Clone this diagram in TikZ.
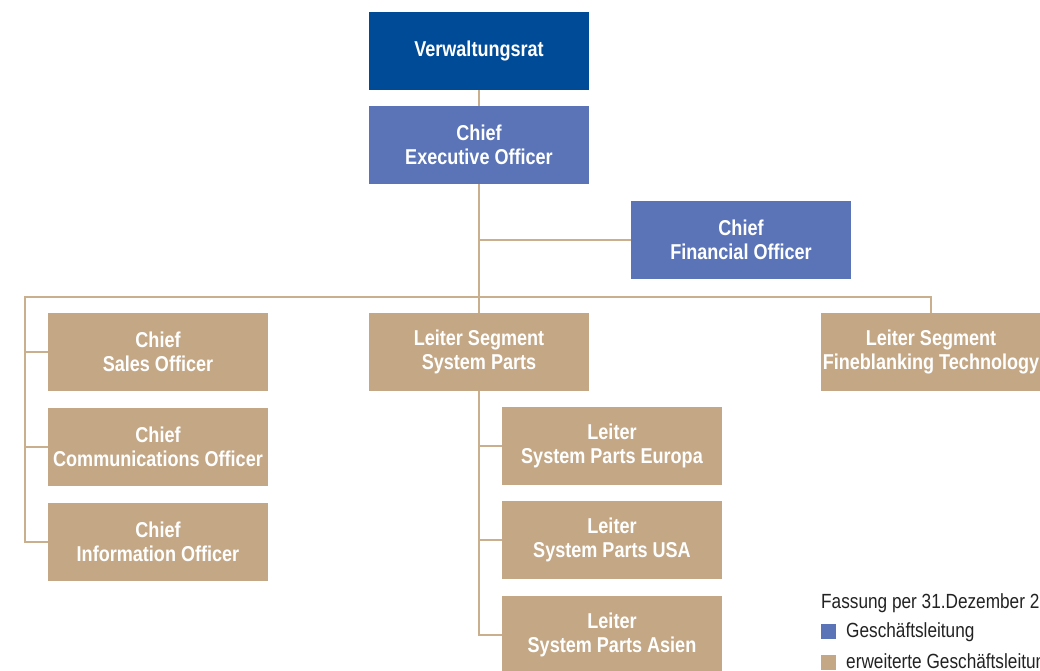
\documentclass[tikz,border=0pt]{standalone}
\usepackage{fontspec}
\setmainfont{Liberation Sans}[FakeStretch=0.84]
\definecolor{vrblue}{HTML}{004B98}
\definecolor{glblue}{HTML}{5A74B7}
\definecolor{tan}{HTML}{C4A886}
\definecolor{linetan}{HTML}{C9AF8E}
\definecolor{legtext}{HTML}{222222}
\tikzset{
  box/.style={minimum width=220pt, minimum height=78pt, inner sep=0pt, align=center,
    text=white, font=\fontsize{21.5}{24.5}\selectfont\bfseries},
  vr/.style={box, fill=vrblue},
  gl/.style={box, fill=glblue},
  egl/.style={box, fill=tan},
  conn/.style={draw=linetan, line width=2pt},
  legend/.style={text=legtext, font=\fontsize{20.5}{24}\selectfont, inner sep=0pt}
}
\begin{document}
\begin{tikzpicture}[x=1pt,y=-1pt]
\useasboundingbox (0,0) rectangle (1040,670);
\clip (0,0) rectangle (1040,670);
\node[vr] (vr) at (479,51) {Verwaltungsrat};
\node[gl] (ceo) at (479,145) {Chief\\Executive Officer};
\node[gl] (cfo) at (741,240) {Chief\\Financial Officer};
\node[egl] (sales) at (158,352) {Chief\\Sales Officer};
\node[egl] (comm) at (158,447) {Chief\\Communications Officer};
\node[egl] (info) at (158,542) {Chief\\Information Officer};
\node[egl] (sp) at (479,352) {Leiter Segment\\System Parts};
\node[egl] (fine) at (931,352) {Leiter Segment\\Fineblanking Technology};
\node[egl] (eu) at (612,446) {Leiter\\System Parts Europa};
\node[egl] (usa) at (612,540) {Leiter\\System Parts USA};
\node[egl] (asia) at (612,635) {Leiter\\System Parts Asien};
\coordinate (L) at (25,297);
% connectors
\draw[conn] (vr.south) -- (ceo.north);
\draw[conn] (ceo.south) -- (sp.north);
\draw[conn] (ceo.south |- cfo.west) -- (cfo.west);
\draw[conn] (fine.north) |- (L) |- (info.west);
\draw[conn] (L |- sales.west) -- (sales.west);
\draw[conn] (L |- comm.west) -- (comm.west);
\draw[conn] (sp.south) |- (asia.west);
\draw[conn] (sp.south |- eu.west) -- (eu.west);
\draw[conn] (sp.south |- usa.west) -- (usa.west);
% legend
\node[legend, anchor=base west] (fass) at (821,608) {Fassung per 31.Dezember 2};
\node[fill=glblue, minimum size=15pt, inner sep=0pt, anchor=north west] (sq1) at (821,624) {};
\node[legend, anchor=west] (l1) at (846,632) {Geschäftsleitung};
\node[fill=tan, minimum size=15pt, inner sep=0pt, anchor=north west] (sq2) at (821,655) {};
\node[legend, anchor=west] (l2) at (846,663) {erweiterte Geschäftsleitung};
\end{tikzpicture}
\end{document}
